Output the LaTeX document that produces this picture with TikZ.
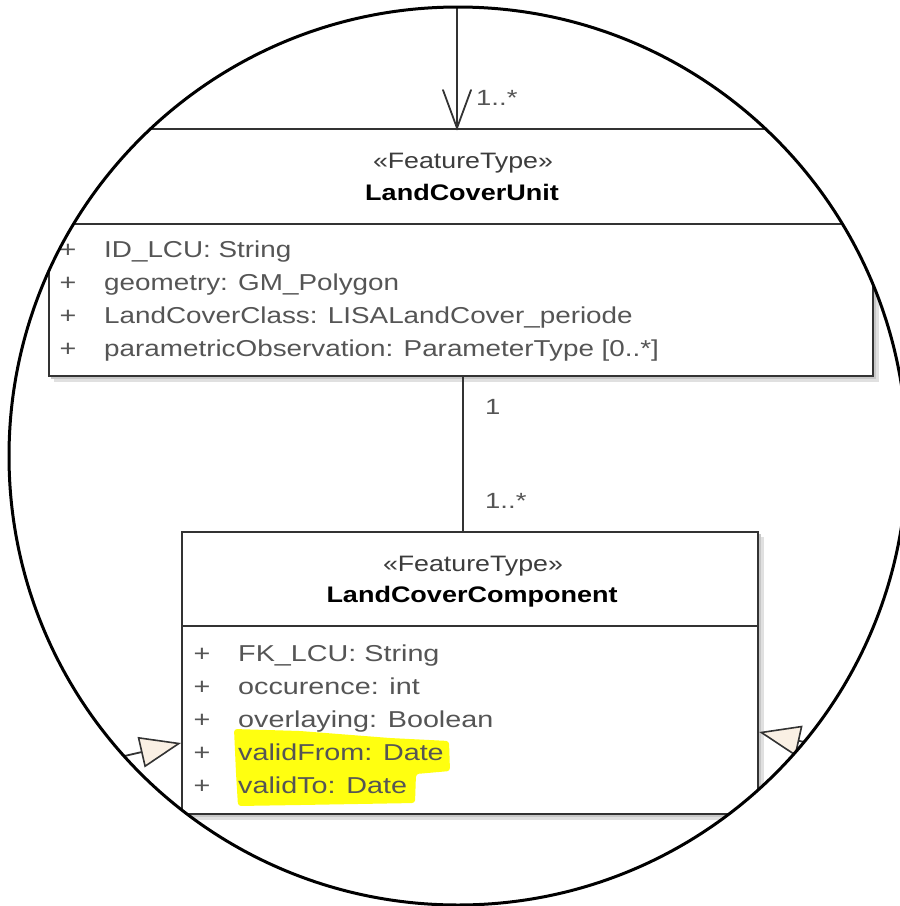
\documentclass[tikz,border=0pt]{standalone}
\usepackage{fontspec}
\setmainfont{Liberation Sans}
\newfontfamily\attrfont{Liberation Sans}[FakeStretch=1.25]
\newfontfamily\unitattrfont{Liberation Sans}[FakeStretch=1.21]
\newfontfamily\headfont{Liberation Sans}[FakeStretch=1.2]
\usetikzlibrary{arrows.meta,calc}

\definecolor{boxline}{HTML}{333333}
\definecolor{attrgray}{HTML}{555555}
\definecolor{stereogray}{HTML}{3C3C3C}
\definecolor{gencream}{HTML}{FAF0E4}
\definecolor{marker}{HTML}{FFFF10}

\tikzset{
  umlbox/.style={draw=boxline, line width=2.2pt, fill=white, inner sep=0pt,
                 anchor=north west},
  divline/.style={draw=boxline, line width=2pt},
  conn/.style={draw=boxline, line width=1.8pt},
  stereo/.style={anchor=base, inner sep=0pt, text=stereogray,
                 font=\headfont\fontsize{22.3}{26}\selectfont},
  clsname/.style={anchor=base, inner sep=0pt, text=black,
                  font=\headfont\bfseries\fontsize{22.5}{26}\selectfont},
  attr/.style={anchor=base west, inner sep=0pt, text=attrgray,
               font=\attrfont\fontsize{23}{27}\selectfont},
  uattr/.style={attr, font=\unitattrfont\fontsize{23}{27}\selectfont},
  vis/.style={anchor=base, inner sep=0pt, text=attrgray,
              font=\attrfont\fontsize{23}{27}\selectfont},
  mult/.style={anchor=base west, inner sep=0pt, text=attrgray,
               font=\attrfont\fontsize{22}{26}\selectfont},
  gen/.style={conn, -{Triangle[length=41pt, width=31pt, fill=gencream,
                               line width=1.6pt]}},
}

\begin{document}
\begin{tikzpicture}[x=1pt, y=-1pt]
\useasboundingbox (0,0) rectangle (900,906);
\fill[white] (0,0) rectangle (900,906);

\begin{scope}
  \clip (458,456) circle [radius=449pt];

  % soft drop shadows of the two classes
  \fill[black!12] (54,134) rectangle (879,382);
  \fill[black!22] (51,131) rectangle (876,379);
  \fill[black!12] (187,537) rectangle (764,820);
  \fill[black!22] (184,534) rectangle (761,817);

  % class LandCoverUnit
  \node[umlbox, minimum width=824pt, minimum height=247pt] (unit) at (48,128) {};
  \draw[divline] (unit.west |- 0,224) -- (unit.east |- 0,224);
  \node[stereo]  (unitst) at (463,168) {«FeatureType»};
  \node[clsname] (unitnm) at (462,200) {LandCoverUnit};
  \node[vis]   (up1) at (68,257) {+};
  \node[uattr] (ua1) at (104,257) {ID\_LCU: String};
  \node[vis]   (up2) at (68,290) {+};
  \node[uattr] (ua2) at (104,290) {geometry: GM\_Polygon};
  \node[vis]   (up3) at (68,323) {+};
  \node[uattr] (ua3) at (104,323) {LandCoverClass: LISALandCover\_periode};
  \node[vis]   (up4) at (68,356) {+};
  \node[uattr] (ua4) at (104,356) {parametricObservation: ParameterType [0..*]};

  % class LandCoverComponent
  \node[umlbox, minimum width=576pt, minimum height=282pt] (comp) at (181,531) {};
  \draw[divline] (comp.west |- 0,626) -- (comp.east |- 0,626);
  \node[stereo]  (compst) at (473,571) {«FeatureType»};
  \node[clsname] (compnm) at (472,602) {LandCoverComponent};

  % marker highlight behind the two date attributes
  \fill[marker, rounded corners=3pt]
    (234,729) -- (300,731) -- (390,738) -- (449,741) -- (450,771)
    -- (416,774) -- (415,803) -- (300,805) -- (238,806) -- (236,773) -- cycle;

  \node[vis]  (cp1) at (202,661) {+};
  \node[attr] (ca1) at (238,661) {FK\_LCU: String};
  \node[vis]  (cp2) at (202,694) {+};
  \node[attr] (ca2) at (238,694) {occurence: int};
  \node[vis]  (cp3) at (202,727) {+};
  \node[attr] (ca3) at (238,727) {overlaying: Boolean};
  \node[vis]  (cp4) at (202,760) {+};
  \node[attr] (ca4) at (238,760) {validFrom: Date};
  \node[vis]  (cp5) at (202,793) {+};
  \node[attr] (ca5) at (238,793) {validTo: Date};

  % association arriving from above, with open arrowhead
  \coordinate (topfree) at (457,-20);
  \coordinate (toptip) at (unit.north -| topfree);
  \draw[conn] (topfree) -- (toptip);
  \draw[conn, line cap=round] ($(toptip)+(-14,-38)$) -- (toptip) -- ++(14,-38);
  \node[mult] (topmult) at (476,105) {1..*};

  % association between the two classes
  \coordinate (midx) at (463,0);
  \draw[conn] (unit.south -| midx) -- (comp.north -| midx);
  \node[mult] (midone)  at (485,414) {1};
  \node[mult] (midmany) at (485,508) {1..*};

  % generalisations from the neighbouring classes
  \coordinate (lfree) at (81,766);
  \coordinate (rfree) at (840,750);
  \draw[gen] (lfree) -- (comp.west |- 0,743);
  \draw[gen] (rfree) -- (comp.east |- 0,732);
\end{scope}

\draw[line width=3pt, black] (458,456) circle [radius=449pt];
\end{tikzpicture}
\end{document}
